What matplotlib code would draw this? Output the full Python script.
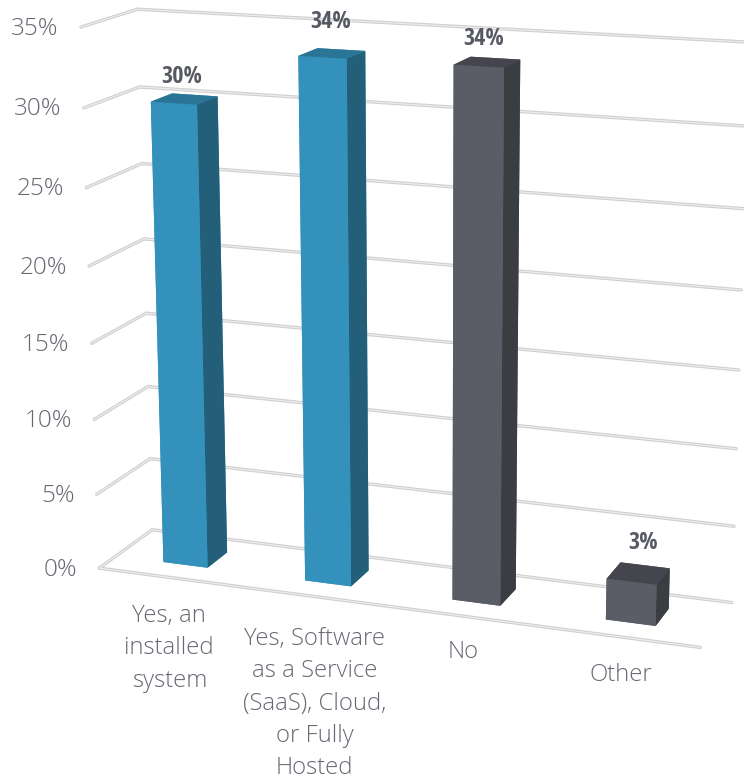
import numpy as np
import matplotlib
matplotlib.use("Agg")
import matplotlib.pyplot as plt
from matplotlib import font_manager as fm
from mpl_toolkits.mplot3d import proj3d

categories = ["Yes, an\ninstalled\nsystem", "Yes, Software\nas a Service\n(SaaS), Cloud,\nor Fully\nHosted", "No", "Other"]
values = [30.18, 33.58, 33.60, 2.64]
value_labels = ["30%", "34%", "34%", "3%"]
ticks = [0, 5, 10, 15, 20, 25, 30, 35]
tick_labels = ["0%", "5%", "10%", "15%", "20%", "25%", "30%", "35%"]

# camera fitted to the reference
ELEV, AZIM, ROLL, LOGF, ASPECT_Y, ASPECT_Z, ZOOM, CX, CY = 14.915, -69.6853, 0.1311, -0.4061, 0.1982, 0.8826, 1.135, 399.0296, 327.3144
BAR_W, BAR_Y0, BAR_Y1 = 0.3161, 0.3103, 0.701
# label offsets in pixels
CAT_DX = [0, 1, 0, 1]
CAT_DY = [-27, -31, -24, -26]
VAL_DX = [-3, -1, -3, 5]
VAL_DY = [10, 19, 11, 19]

W, H, S = 744, 780, 744.0
TEXT = "#666972"
BOLD = "#565962"
fig = plt.figure(figsize=(W/100, H/100), dpi=100)
ax = fig.add_axes([(CX-S/2)/W, 1-(CY+S/2)/H, S/W, S/H], projection="3d")
ax.set_xlim(0, 4); ax.set_ylim(0, 1); ax.set_zlim(0, 35)
ax.set_proj_type("persp", focal_length=np.exp(LOGF))
ax.view_init(elev=ELEV, azim=AZIM, roll=ROLL)
ax.set_box_aspect((1, ASPECT_Y, ASPECT_Z), zoom=ZOOM)
ax.set_axis_off()
ax.computed_zorder = False
ax.patch.set_alpha(0)
M = ax.get_proj()

def label(x, y, z, s, dx=0, dy=0, **kw):
    x2, y2, _ = proj3d.proj_transform(x, y, z, M)
    ax.annotate(s, (x2, y2), xycoords="data", xytext=(dx, dy), textcoords="offset pixels",
                annotation_clip=False, zorder=10, **kw)

def rule(xs, ys, t):
    ax.plot(xs, ys, [t, t], color="#cfcfcf", lw=2.4, zorder=1, solid_capstyle="round")
    ax.plot(xs, ys, [t, t], color="#eeeeee", lw=0.8, zorder=1.1)

for t, lab in zip(ticks, tick_labels):
    rule([0, 0], [0, 1], t)
    rule([0, 4], [1, 1], t)
    label(0, 0, t, lab, dx=-22, dy=-1.5, ha="right", va="center", fontsize=17.5, color=TEXT,
          family="Open Sans", fontweight=300)
rule([0, 4], [0, 0], 0)

cols = [("#3391bb", "#2a7596", "#235f79")]*2 + [("#5a5d66", "#45464d", "#3a3d42")]*2
names = {f.name for f in fm.fontManager.ttflist}
bold = [b for b in ["Open Sans Condensed", "Roboto Condensed", "Liberation Sans Narrow", "Open Sans"] if b in names] or ["Open Sans"]
for i, (v, vl, cat) in enumerate(zip(values, value_labels, categories)):
    fr, tp, sd = cols[i]
    ax.bar3d(i+0.5-BAR_W/2, BAR_Y0, 0, BAR_W, BAR_Y1-BAR_Y0, v,
             color=[fr, tp, fr, fr, fr, sd], shade=False, zorder=3+i)
    label(i+0.5, (BAR_Y0+BAR_Y1)/2, v, vl, dx=VAL_DX[i], dy=VAL_DY[i], ha="center", va="bottom", fontsize=17.5,
          fontweight="bold", color=BOLD, family=bold)
    label(i+0.5, 0, 0, cat, dx=CAT_DX[i], dy=CAT_DY[i], ha="center", va="top", fontsize=17.2, color=TEXT,
          family="Open Sans", fontweight=300, linespacing=1.45, multialignment="center")

fig.savefig("out.png", dpi=100)
